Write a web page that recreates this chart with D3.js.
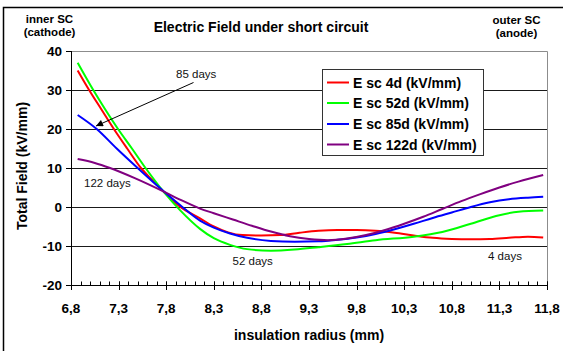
<!DOCTYPE html>
<html>
<head>
<meta charset="utf-8">
<script src="https://cdn.jsdelivr.net/npm/d3@7/dist/d3.min.js"></script>
<style>
  html, body { margin: 0; padding: 0; background: #fff; }
  svg { display: block; font-family: "Liberation Sans", Arial, sans-serif; }
</style>
</head>
<body>
<svg id="chart" width="563" height="351"></svg>
<script>
// Electric field profiles across the insulation under short circuit
const xTicks = [6.8, 7.3, 7.8, 8.3, 8.8, 9.3, 9.8, 10.3, 10.8, 11.3, 11.8];
const yTicks = [40, 30, 20, 10, 0, -10, -20];
const seriesNames = ["E sc 4d (kV/mm)", "E sc 52d (kV/mm)", "E sc 85d (kV/mm)", "E sc 122d (kV/mm)"];
const seriesColors = ["#ff0000", "#00ff00", "#0000ff", "#800080"];

// 4 days
const r4d = [6.87, 6.99, 7.12, 7.25, 7.39, 7.535, 7.65, 7.77, 7.945, 8.155, 8.3, 8.45, 8.6, 8.8, 9.0, 9.2, 9.4, 9.6, 9.8, 10.0, 10.2, 10.4, 10.6, 10.8, 11.0, 11.2, 11.4, 11.6, 11.76];
const e4d = [35, 30, 25, 20, 15, 10, 7, 4.0, 0.1, -2.9, -5.0, -6.5, -7.2, -7.3, -7.2, -6.6, -6.1, -5.9, -5.9, -6.1, -6.6, -7.3, -7.9, -8.2, -8.3, -8.2, -7.9, -7.6, -7.8];
// 52 days
const r52d = [6.87, 7.034, 7.16, 7.294, 7.44, 7.583, 7.77, 7.945, 8.155, 8.3, 8.47, 8.65, 8.9, 9.15, 9.4, 9.7, 10.0, 10.4, 10.7, 11.0, 11.3, 11.5, 11.76];
const e52d = [37, 30, 25, 20, 15, 10, 4.0, -0.8, -5.6, -8.0, -9.7, -10.8, -11.2, -10.9, -10.3, -9.5, -8.5, -7.6, -6.4, -4.3, -2.1, -1.2, -0.9];
// 85 days
const r85d = [6.87, 7.07, 7.28, 7.5, 7.77, 7.945, 8.155, 8.3, 8.47, 8.65, 8.9, 9.15, 9.4, 9.6, 9.8, 10.0, 10.2, 10.4, 10.6, 10.8, 11.0, 11.2, 11.4, 11.6, 11.76];
const e85d = [23.6, 20, 15, 10, 4.1, 0.5, -3.5, -5.3, -6.8, -7.9, -8.7, -8.9, -8.8, -8.4, -7.8, -6.9, -5.7, -4.3, -2.8, -1.4, 0.0, 1.2, 2.0, 2.4, 2.6];
// 122 days
const r122d = [6.87, 7.05, 7.21, 7.47, 7.77, 7.945, 8.155, 8.3, 8.5, 8.7, 8.9, 9.1, 9.3, 9.5, 9.7, 9.9, 10.1, 10.3, 10.5, 10.7, 10.9, 11.1, 11.3, 11.5, 11.76];
const e122d = [12.3, 11.3, 10.0, 7.4, 4.0, 1.9, -0.4, -1.6, -3.2, -4.8, -6.3, -7.5, -8.2, -8.5, -8.1, -7.2, -5.9, -4.3, -2.5, -0.5, 1.5, 3.3, 5.0, 6.5, 8.2];

const seriesR = [r4d, r52d, r85d, r122d];
const seriesE = [e4d, e52d, e85d, e122d];

const svg = d3.select("#chart");

const x = d3.scaleLinear().domain([6.8, 11.8]).range([71, 547]);
const y = d3.scaleLinear().domain([-20, 40]).range([285, 51]);

// chart frame
svg.append("path")
  .attr("d", "M3.5,351 L3.5,7.5 L563,7.5")
  .attr("fill", "none").attr("stroke", "#000").attr("stroke-width", 1.5);

// plot area border (top and right)
svg.append("path")
  .attr("d", `M${x(6.8)},${y(40) + 0.5} H${x(11.8) + 0.5} V${y(-20)}`)
  .attr("fill", "none").attr("stroke", "#8c8c8c").attr("stroke-width", 1);

// horizontal gridlines
svg.append("g").selectAll("line")
  .data(yTicks.filter(d => d > -20 && d < 40))
  .join("line")
  .attr("x1", x(6.8)).attr("x2", x(11.8))
  .attr("y1", d => Math.round(y(d)) + 0.5).attr("y2", d => Math.round(y(d)) + 0.5)
  .attr("stroke", "#1a1a1a").attr("stroke-width", 1);

// x axis: minor ticks every 0.1 pointing up, major ticks crossing the line
const xMinor = d3.range(0, 51).map(i => 6.8 + i * 0.1);
svg.append("g").selectAll("line")
  .data(xMinor)
  .join("line")
  .attr("x1", d => Math.round(x(d)) + 0.5).attr("x2", d => Math.round(x(d)) + 0.5)
  .attr("y1", y(-20) - 3.5).attr("y2", y(-20))
  .attr("stroke", "#000");
svg.append("g").selectAll("line")
  .data(xTicks)
  .join("line")
  .attr("x1", d => Math.round(x(d)) + 0.5).attr("x2", d => Math.round(x(d)) + 0.5)
  .attr("y1", y(-20) - 3.5).attr("y2", y(-20) + 5)
  .attr("stroke", "#000");
svg.append("line")
  .attr("x1", x(6.8) - 5).attr("x2", x(11.8) + 0.5)
  .attr("y1", y(-20) + 0.5).attr("y2", y(-20) + 0.5)
  .attr("stroke", "#000");

// y axis
svg.append("line")
  .attr("x1", x(6.8) + 0.5).attr("x2", x(6.8) + 0.5)
  .attr("y1", y(40)).attr("y2", y(-20) + 5)
  .attr("stroke", "#000");
svg.append("g").selectAll("line")
  .data(yTicks)
  .join("line")
  .attr("x1", x(6.8) - 5).attr("x2", x(6.8))
  .attr("y1", d => Math.round(y(d)) + 0.5).attr("y2", d => Math.round(y(d)) + 0.5)
  .attr("stroke", "#000");

// tick labels
svg.append("g").selectAll("text")
  .data(yTicks)
  .join("text")
  .attr("x", 62).attr("y", d => y(d) + 5)
  .attr("text-anchor", "end")
  .attr("font-size", 13.5).attr("font-weight", "bold")
  .text(d => d);
svg.append("g").selectAll("text")
  .data(xTicks)
  .join("text")
  .attr("x", d => x(d)).attr("y", 312.5)
  .attr("text-anchor", "middle")
  .attr("font-size", 13.5).attr("font-weight", "bold")
  .text(d => d3.format(".1f")(d).replace(".", ","));

// axis titles
svg.append("text")
  .attr("x", 309).attr("y", 340)
  .attr("text-anchor", "middle")
  .attr("font-size", 14).attr("font-weight", "bold")
  .text("insulation radius (mm)");
svg.append("text")
  .attr("transform", "translate(27,166) rotate(-90)")
  .attr("text-anchor", "middle")
  .attr("font-size", 14).attr("font-weight", "bold")
  .text("Total Field (kV/mm)");

// title and electrode labels
svg.append("text")
  .attr("x", 261).attr("y", 32)
  .attr("text-anchor", "middle")
  .attr("font-size", 14).attr("font-weight", "bold")
  .text("Electric Field under short circuit");
svg.append("text").attr("x", 49.5).attr("y", 22.5).attr("text-anchor", "middle")
  .attr("font-size", 11.5).attr("font-weight", "bold").text("inner SC");
svg.append("text").attr("x", 49.5).attr("y", 36).attr("text-anchor", "middle")
  .attr("font-size", 11.5).attr("font-weight", "bold").text("(cathode)");
svg.append("text").attr("x", 516.5).attr("y", 23.5).attr("text-anchor", "middle")
  .attr("font-size", 11.5).attr("font-weight", "bold").text("outer SC");
svg.append("text").attr("x", 516.5).attr("y", 37).attr("text-anchor", "middle")
  .attr("font-size", 11.5).attr("font-weight", "bold").text("(anode)");

// field curves
const line = d3.line().curve(d3.curveMonotoneX);
const plot = svg.append("g");
seriesR.forEach((rs, i) => {
  const pts = rs.map((r, j) => [x(r), y(seriesE[i][j])]);
  plot.append("path")
    .attr("d", line(pts))
    .attr("fill", "none")
    .attr("stroke", seriesColors[i])
    .attr("stroke-width", 2);
});

// annotations
const note = (tx, ty, s) => svg.append("text").attr("x", tx).attr("y", ty)
  .attr("font-size", 11.5).attr("fill", "#111").text(s);
note(176, 78, "85 days");
note(84, 186.5, "122 days");
note(232.5, 264.5, "52 days");
note(488, 259.5, "4 days");

svg.append("defs").append("marker")
  .attr("id", "head").attr("viewBox", "0 0 10 10")
  .attr("refX", 10).attr("refY", 5)
  .attr("markerWidth", 10).attr("markerHeight", 7)
  .attr("markerUnits", "userSpaceOnUse")
  .attr("orient", "auto")
  .append("path").attr("d", "M0,0 L10,5 L0,10 Z").attr("fill", "#000");
svg.append("line")
  .attr("x1", 193.5).attr("y1", 82.5).attr("x2", 96).attr("y2", 126)
  .attr("stroke", "#000").attr("stroke-width", 1)
  .attr("marker-end", "url(#head)");

// legend
const lg = svg.append("g");
lg.append("rect")
  .attr("x", 322.5).attr("y", 69.5).attr("width", 161).attr("height", 86)
  .attr("fill", "#fff").attr("stroke", "#333").attr("stroke-width", 1);
const rowY = [82.5, 103, 124, 144.5];
seriesNames.forEach((name, i) => {
  lg.append("line")
    .attr("x1", 327).attr("x2", 349)
    .attr("y1", rowY[i]).attr("y2", rowY[i])
    .attr("stroke", seriesColors[i]).attr("stroke-width", 2);
  lg.append("text")
    .attr("x", 353).attr("y", rowY[i] + 5)
    .attr("font-size", 14).attr("font-weight", "bold")
    .text(name);
});
</script>
</body>
</html>
